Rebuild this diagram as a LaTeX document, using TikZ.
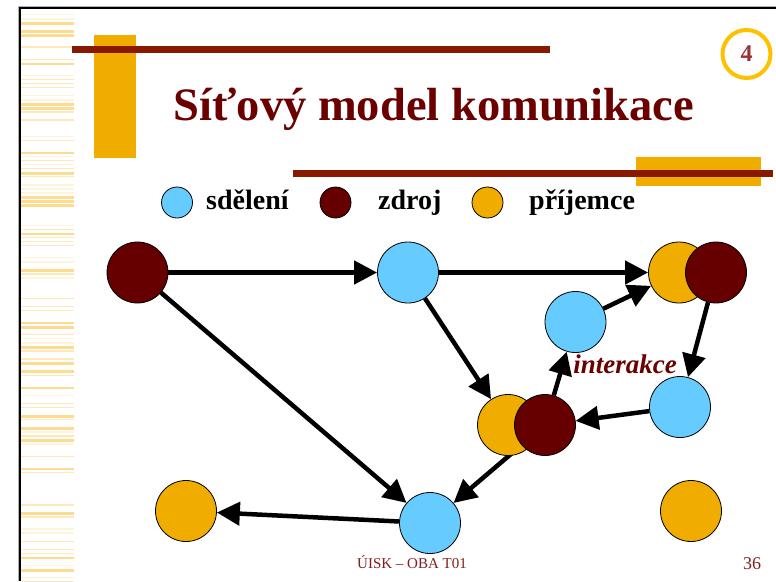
\documentclass[tikz,border=0pt]{standalone}
\usepackage{fontspec}
\setmainfont{Liberation Serif}
\usetikzlibrary{arrows.meta,backgrounds}
\definecolor{dred}{HTML}{660000}
\definecolor{titlered}{HTML}{6B0000}
\definecolor{barred}{HTML}{881800}
\definecolor{gold}{HTML}{F0AD00}
\definecolor{sky}{HTML}{66CCFF}
\definecolor{ring}{HTML}{FFC000}
\definecolor{stripe}{HTML}{FDD98A}
\definecolor{foot}{HTML}{7F1F1F}
\definecolor{numred}{HTML}{993333}
\begin{document}
\begin{tikzpicture}[x=1pt,y=-1pt,
  msg/.style={circle,draw=black,line width=0.8pt,fill=sky,minimum size=61pt,inner sep=0pt},
  src/.style={msg,fill=dred},
  rcv/.style={msg,fill=gold},
  legmsg/.style={msg,minimum size=31pt},
  legsrc/.style={legmsg,fill=dred},
  legrcv/.style={legmsg,fill=gold},
  legtext/.style={anchor=base west,inner sep=0pt,font=\bfseries\fontsize{28}{32}\selectfont},
  flow/.style={line width=4.5pt,-{Triangle[length=23pt,width=23pt]}},
  decobox/.style={fill=gold,draw=none},
  decobar/.style={fill=barred,draw=none}]
\useasboundingbox (0,0) rectangle (776,581);
% left stripes
\pgfmathsetseed{12}
\foreach \k in {0,...,141}{
  \pgfmathsetmacro\yy{10+4.05*\k}
  \pgfmathsetmacro\rr{rnd}
  \pgfmathsetmacro\op{\rr<0.4 ? 0 : (\rr<0.62 ? 0.3 : (\rr<0.85 ? 0.6 : 0.95))}
  \pgfmathsetmacro\th{\rr>0.85 ? 2.6 : 1.4}
  \fill[stripe,opacity=\op] (21,\yy) rectangle (74,\yy+\th);
}
% frame
\draw[gray!60,line width=1pt] (18.5,581) -- (18.5,6.5) -- (776,6.5);
\draw[black,line width=2.2pt] (20.3,581) -- (20.3,8.3) -- (776,8.3);
% decorations
\fill[decobox] (94,35) rectangle (136,158);
\fill[decobar] (72,46) rectangle (550,53);
\fill[decobox] (636,157) rectangle (761,186);
\fill[decobar] (293,170) rectangle (773,177);
\node[circle,draw=ring,line width=4pt,minimum size=48pt,inner sep=0pt,
      text=numred,font=\bfseries\fontsize{24}{28}\selectfont] (num) at (746.5,54) {4};
% title
\node[anchor=base,inner sep=0pt,text=titlered,font=\bfseries\fontsize{46.5}{52}\selectfont]
  (title) at (434,120) {Síťový model komunikace};
% legend
\node[legmsg] (l1) at (177,202.5) {};
\node[legtext] (t1) at (206,209.5) {sdělení};
\node[legsrc] (l2) at (335.5,202.5) {};
\node[legtext] (t2) at (378,209.5) {zdroj};
\node[legrcv] (l3) at (487.5,202.5) {};
\node[legtext] (t3) at (529,209.5) {příjemce};
% network
\node[src] (A) at (137.5,272.5) {};
\node[msg] (B) at (408,272.5) {};
\node[rcv] (Co) at (679,272.5) {};
\node[src] (Cr) at (716,272.5) {};
\node[msg] (D) at (575.5,322) {};
\node[msg] (E) at (680,407) {};
\node[rcv] (Fo) at (508,425) {};
\node[src] (Fr) at (545,425) {};
\node[msg] (G) at (430,523) {};
\node[rcv] (H) at (186,511) {};
\node[rcv] (I) at (691,511) {};
\node[anchor=base,inner sep=0pt,text=titlered,font=\bfseries\itshape\fontsize{27}{30}\selectfont]
  (inter) at (625,373) {interakce};
\begin{scope}[on background layer]
\draw[flow] (A) -- (B);
\draw[flow] (B) -- (Co);
\draw[flow] (A) -- (G);
\draw[flow] (B) -- (Fo);
\draw[flow] (Fr) -- (D);
\draw[flow] (D) -- (Co);
\draw[flow] (Cr) -- (E);
\draw[flow] (E) -- (Fr);
\draw[flow] (Fr) -- (G);
\draw[flow] (G) -- (H);
\end{scope}
% footer
\node[anchor=base,inner sep=0pt,text=foot,font=\fontsize{15}{18}\selectfont] (foot1) at (412,568) {ÚISK – OBA T01};
\node[anchor=base,inner sep=0pt,text=foot,font=\fontsize{18}{20}\selectfont] (foot2) at (752,569) {36};
\end{tikzpicture}
\end{document}
